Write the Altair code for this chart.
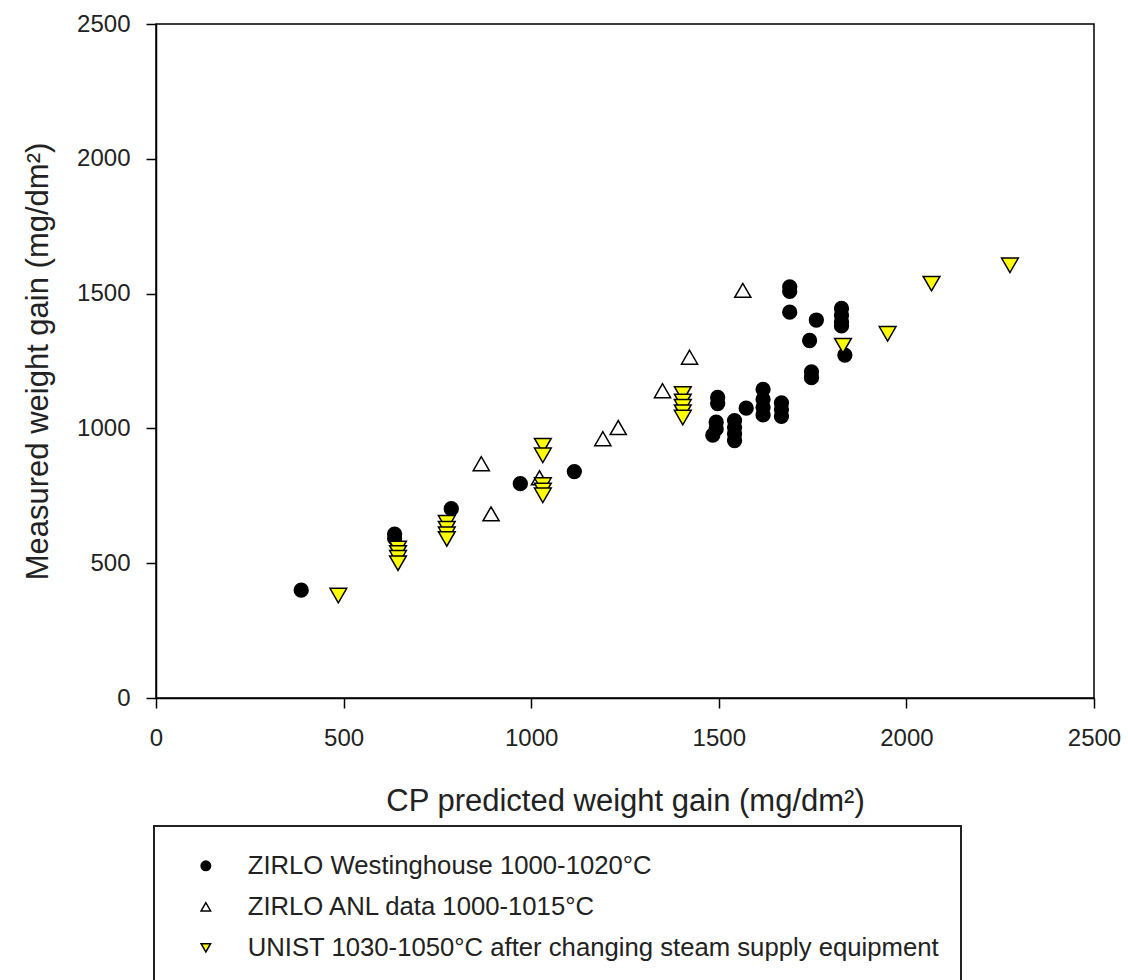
import altair as alt
import pandas as pd

S1 = "ZIRLO Westinghouse 1000-1020°C"
S2 = "ZIRLO ANL data 1000-1015°C"
S3 = "UNIST 1030-1050°C after changing steam supply equipment"

w_x = [387, 636, 636, 787, 971, 1115, 1497, 1497, 1493, 1493, 1484, 1542, 1542, 1542, 1542,
       1573, 1618, 1618, 1618, 1618, 1667, 1667, 1667, 1689, 1689, 1689, 1760, 1742, 1747, 1747,
       1827, 1827, 1827, 1827, 1836]
w_y = [400, 608, 592, 702, 795, 840, 1115, 1092, 1023, 998, 975, 1029, 1004, 980, 955,
       1075, 1145, 1108, 1078, 1050, 1095, 1070, 1045, 1525, 1508, 1431, 1402, 1326, 1210, 1188,
       1445, 1420, 1395, 1380, 1272]

a_x = [867, 893, 1022, 1191, 1232, 1350, 1422, 1564]
a_y = [869, 683, 817, 962, 1003, 1140, 1264, 1512]

u_x = [486, 645, 645, 645, 645, 775, 775, 775, 775, 1031, 1031, 1031, 1031, 1031,
       1404, 1404, 1404, 1404, 1404, 1831, 1950, 2067, 2276]
u_y = [380, 555, 538, 520, 500, 650, 628, 607, 590, 936, 900, 790, 770, 752,
       1128, 1100, 1080, 1060, 1040, 1307, 1351, 1537, 1605]

series = [S1, S2, S3]
shapes = ["circle", "triangle-up", "triangle-down"]
fills = ["#000000", "#ffffff", "#ffff00"]
sizes = [190, 260, 280]

rows = []
for name, xs, ys in [(S1, w_x, w_y), (S2, a_x, a_y), (S3, u_x, u_y)]:
    for x, y in zip(xs, ys):
        rows.append({"x": x, "y": y, "series": name})
df = pd.DataFrame(rows)

FONT = "Liberation Sans"
ticks = [0, 500, 1000, 1500, 2000, 2500]

base = alt.Chart(df).encode(
    x=alt.X("x:Q", scale=alt.Scale(domain=[0, 2500], nice=False),
            axis=alt.Axis(values=ticks, format="d",
                          title="CP predicted weight gain (mg/dm²)",
                          titlePadding=36, labelPadding=18)),
    y=alt.Y("y:Q", scale=alt.Scale(domain=[0, 2500], nice=False),
            axis=alt.Axis(values=ticks, format="d",
                          title="Measured weight gain (mg/dm²)",
                          titlePadding=22, labelPadding=16)),
    shape=alt.Shape("series:N", scale=alt.Scale(domain=series, range=shapes),
                    legend=alt.Legend(title=" ")),
    fill=alt.Fill("series:N", scale=alt.Scale(domain=series, range=fills),
                  legend=alt.Legend(title=" ")),
    stroke=alt.Stroke("series:N", scale=alt.Scale(domain=series, range=["#000000"] * 3),
                      legend=alt.Legend(title=" ")),
)

layers = []
for name, sz in zip(series, sizes):
    layers.append(
        base.transform_filter(alt.datum.series == name).mark_point(
            filled=True, strokeWidth=1.5, size=sz, opacity=1
        )
    )

chart = alt.layer(*layers).properties(
    width=938, height=674,
    padding={"left": 22, "top": 12, "right": 5, "bottom": 0},
).configure_view(
    stroke="#000000", strokeWidth=1.5
).configure_axis(
    grid=False, domainColor="#000000", domainWidth=1.5, tickColor="#000000",
    tickWidth=1.5, tickSize=10, labelFont=FONT, labelFontSize=24, labelColor="#222222",
    titleFont=FONT, titleFontSize=31, titleFontWeight="normal",
    titleColor="#222222", labelFlush=False, labelOverlap=False
).configure_legend(
    orient="none", legendX=-2, legendY=802, padding=21, strokeColor="#222222",
    strokeWidth=2, labelFont=FONT, labelFontSize=25.7, labelColor="#222222",
    titleFontSize=6, titlePadding=0,
    symbolSize=90, symbolStrokeWidth=1.5, symbolStrokeColor="#000000",
    rowPadding=14, labelOffset=29, symbolOffset=18, labelLimit=1000
)

chart.save("out.html", embed_options={"renderer": "svg", "actions": False})
